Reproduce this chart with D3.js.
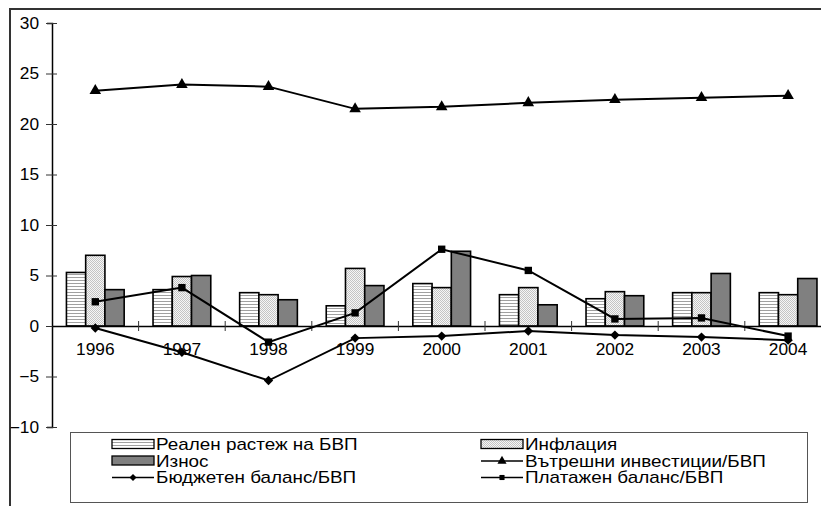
<!DOCTYPE html>
<html>
<head>
<meta charset="utf-8">
<script src="https://cdn.jsdelivr.net/npm/d3@7"></script>
<style>
  html, body { margin: 0; padding: 0; background: #fff; }
  svg { display: block; }
  text { font-family: "Liberation Sans", Arial, sans-serif; fill: #000; }
</style>
</head>
<body>
<svg id="chart" width="821" height="506"></svg>
<script>
// Years on the category axis
const years = ["1996", "1997", "1998", "1999", "2000", "2001", "2002", "2003", "2004"];

// Bar series (% values)
const realGrowth = [5.3, 3.6, 3.3, 2.0, 4.2, 3.1, 2.7, 3.3, 3.3];
const inflation  = [7.0, 4.9, 3.1, 5.7, 3.8, 3.8, 3.4, 3.3, 3.1];
const exports    = [3.6, 5.0, 2.6, 4.0, 7.4, 2.1, 3.0, 5.2, 4.7];

// Line series (% of GDP)
const investment     = [23.3, 23.9, 23.7, 21.5, 21.7, 22.1, 22.4, 22.6, 22.8];
const budgetBalance  = [-0.2, -2.6, -5.4, -1.2, -1.0, -0.5, -0.9, -1.1, -1.4];
const paymentBalance = [2.4, 3.8, -1.6, 1.3, 7.6, 5.5, 0.7, 0.8, -1.0];

// Value axis ticks
const yTicks = [-10, -5, 0, 5, 10, 15, 20, 25, 30];

// Series names
const barNames  = ["Реален растеж на БВП", "Инфлация", "Износ"];
const lineNames = ["Вътрешни инвестиции/БВП", "Бюджетен баланс/БВП", "Платажен баланс/БВП"];

const barSeries = [
  { name: barNames[0], values: realGrowth, fill: "#fff", hatch: true },
  { name: barNames[1], values: inflation,  fill: "url(#dots)" },
  { name: barNames[2], values: exports,    fill: "#808080" }
];
const lineSeries = [
  { name: lineNames[0], values: investment,     symbol: d3.symbolTriangle, size: 58 },
  { name: lineNames[1], values: budgetBalance,  symbol: d3.symbolDiamond2, size: 56 },
  { name: lineNames[2], values: paymentBalance, symbol: d3.symbolSquare,   size: 54 }
];

const svg = d3.select("#chart");

// Fine dot screen for the inflation bars
const defs = svg.append("defs");
const dp = defs.append("pattern").attr("id", "dots").attr("patternUnits", "userSpaceOnUse")
  .attr("width", 2).attr("height", 2);
dp.append("rect").attr("width", 2).attr("height", 2).attr("fill", "#f6f6f6");
dp.append("rect").attr("x", 0).attr("y", 0).attr("width", 1).attr("height", 1).attr("fill", "#c4c4c4");
dp.append("rect").attr("x", 1).attr("y", 1).attr("width", 1).attr("height", 1).attr("fill", "#c4c4c4");

// Horizontal rules inside a rectangle (hatch of the real-growth bars)
function hatch(g, x0, y0, w, h) {
  const ys = d3.range(y0 + 2, y0 + h - 0.5, 3);
  g.selectAll(null).data(ys).join("line")
    .attr("x1", x0).attr("x2", x0 + w)
    .attr("y1", d => Math.round(d) + 0.5).attr("y2", d => Math.round(d) + 0.5)
    .attr("stroke", "#a0a0a0").attr("stroke-width", 1);
}

// Outer frame (top and left edges)
svg.append("path").attr("d", "M10,506V9H821").attr("fill", "none")
  .attr("stroke", "#333").attr("stroke-width", 2);

// Scales
const x = d3.scaleBand().domain(years).range([52, 52 + 9 * 86.6]).padding(0);
const x1 = d3.scaleBand().domain(barNames).range([0, x.bandwidth()]).paddingInner(0).paddingOuter(0.75);
const y = d3.scaleLinear().domain([-10, 30]).range([427, 23]);

// Value axis
const yAxis = svg.append("g").attr("transform", "translate(52,0)")
  .call(d3.axisLeft(y).tickValues(yTicks).tickSize(5).tickPadding(8).tickFormat(d3.format("d")));
yAxis.select(".domain").attr("stroke", "#000").attr("stroke-width", 1.5);
yAxis.selectAll(".tick line").attr("x2", 5).attr("x1", -6).attr("stroke", "#333");
yAxis.selectAll(".tick text").attr("font-size", 16).attr("font-family", "Liberation Sans, Arial, sans-serif")
  .attr("fill", "#000").attr("x", -12).attr("transform", "scale(1.08,1)");

// Bars
const barData = barSeries.flatMap(s => s.values.map((v, i) => ({
  s, v, year: years[i],
  bx: x(years[i]) + x1(s.name), bw: x1.bandwidth(),
  by: y(Math.max(0, v)), bh: Math.abs(y(v) - y(0))
})));
const bars = svg.append("g");
barData.forEach(d => {
  bars.append("rect").attr("x", d.bx).attr("y", d.by).attr("width", d.bw).attr("height", d.bh)
    .attr("fill", d.s.fill);
  if (d.s.hatch) hatch(bars.append("g"), d.bx, d.by, d.bw, d.bh);
  bars.append("rect").attr("x", d.bx).attr("y", d.by).attr("width", d.bw).attr("height", d.bh)
    .attr("fill", "none").attr("stroke", "#000").attr("stroke-width", 1.6);
});

// Category axis through zero
const xAxis = svg.append("g").attr("transform", `translate(0,${y(0)})`)
  .call(d3.axisBottom(x).tickSize(0).tickPadding(17));
xAxis.select(".domain").attr("stroke", "#000").attr("stroke-width", 1.5);
xAxis.selectAll(".tick text").attr("font-size", 16.5).attr("font-family", "Liberation Sans, Arial, sans-serif")
  .attr("fill", "#000").attr("transform", "scale(1.05,1)");
// Category separators
svg.append("g").selectAll("line").data(years.slice(1)).join("line")
  .attr("x1", d => x(d)).attr("x2", d => x(d))
  .attr("y1", y(0) - 5).attr("y2", y(0) + 5)
  .attr("stroke", "#333").attr("stroke-width", 1);

// Lines with markers
const cx = d => x(d) + x.bandwidth() / 2;
const line = d3.line().x((v, i) => cx(years[i])).y(v => y(v));
lineSeries.forEach(s => {
  svg.append("path").datum(s.values).attr("d", line)
    .attr("fill", "none").attr("stroke", "#000").attr("stroke-width", 2);
  svg.append("g").selectAll("path").data(s.values).join("path")
    .attr("transform", (v, i) => `translate(${cx(years[i])},${y(v)})`)
    .attr("d", d3.symbol().type(s.symbol).size(s.size))
    .attr("fill", "#000");
});

// Legend
const lg = svg.append("g");
lg.append("rect").attr("x", 70.5).attr("y", 432.5).attr("width", 737).attr("height", 70)
  .attr("fill", "#fff").attr("stroke", "#555").attr("stroke-width", 1);

const legendItems = [
  { name: barNames[0], type: "bar", fill: "#fff", hatch: true, col: 0, row: 0 },
  { name: barNames[1], type: "bar", fill: "url(#dots)",   col: 1, row: 0 },
  { name: barNames[2], type: "bar", fill: "#808080",      col: 0, row: 1 },
  { name: lineNames[0], type: "line", symbol: d3.symbolTriangle, size: 36, col: 1, row: 1 },
  { name: lineNames[1], type: "line", symbol: d3.symbolDiamond2, size: 32, col: 0, row: 2 },
  { name: lineNames[2], type: "line", symbol: d3.symbolSquare,   size: 26, col: 1, row: 2 }
];
const colX = [112, 481];
const rowY = [444.5, 461, 477.5];
legendItems.forEach(it => {
  const gx = colX[it.col], gy = rowY[it.row];
  if (it.type === "bar") {
    lg.append("rect").attr("x", gx).attr("y", gy - 5).attr("width", 42).attr("height", 9)
      .attr("fill", it.fill);
    if (it.hatch) hatch(lg.append("g"), gx, gy - 5, 42, 9);
    lg.append("rect").attr("x", gx).attr("y", gy - 5).attr("width", 42).attr("height", 9)
      .attr("fill", "none").attr("stroke", "#000").attr("stroke-width", 1.3);
  } else {
    lg.append("line").attr("x1", gx).attr("x2", gx + 42).attr("y1", gy).attr("y2", gy)
      .attr("stroke", "#000").attr("stroke-width", 1.5);
    lg.append("path").attr("transform", `translate(${gx + 21},${gy})`)
      .attr("d", d3.symbol().type(it.symbol).size(it.size)).attr("fill", "#000");
  }
  lg.append("text").attr("transform", `translate(${gx + 44},${gy}) scale(1.18,1)`)
    .attr("dy", "0.36em").attr("font-size", 16).text(it.name);
});
</script>
</body>
</html>
